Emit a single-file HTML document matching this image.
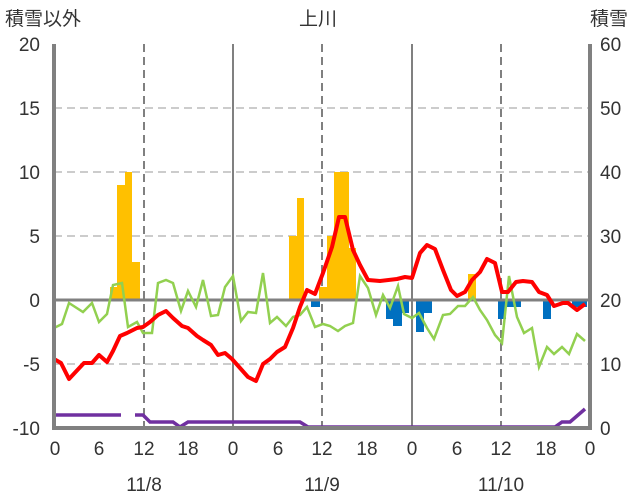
<!DOCTYPE html><html><head><meta charset="utf-8"><style>body{margin:0;background:#fff}svg{display:block}text{font-family:"Liberation Sans","Noto Sans CJK JP",sans-serif;fill:#333;font-size:19px}</style></head><body>
<svg width="636" height="501" viewBox="0 0 636 501">
<g stroke="#bbb" stroke-width="1.5" stroke-dasharray="8,5">
<line x1="54" y1="108" x2="590" y2="108"/><line x1="54" y1="172" x2="590" y2="172"/><line x1="54" y1="236" x2="590" y2="236"/><line x1="54" y1="364" x2="590" y2="364"/></g>
<g stroke="#808080" stroke-width="2" stroke-dasharray="8,5"><line x1="144" y1="44" x2="144" y2="427"/><line x1="322" y1="44" x2="322" y2="427"/><line x1="501" y1="44" x2="501" y2="427"/></g>
<g stroke="#808080" stroke-width="2"><line x1="233" y1="44" x2="233" y2="427"/><line x1="412" y1="44" x2="412" y2="427"/></g>
<g fill="#FFC000"><rect x="110" y="287" width="7" height="13"/><rect x="117" y="185" width="8" height="115"/><rect x="125" y="172" width="7" height="128"/><rect x="132" y="262" width="8" height="38"/><rect x="289" y="236" width="8" height="64"/><rect x="297" y="198" width="7" height="102"/><rect x="319" y="287" width="8" height="13"/><rect x="327" y="236" width="7" height="64"/><rect x="334" y="172" width="15" height="128"/><rect x="349" y="248" width="7" height="52"/><rect x="468" y="274" width="8" height="26"/></g>
<g fill="#0070C0"><rect x="311" y="300" width="9" height="7"/><rect x="386" y="300" width="7" height="19"/><rect x="393" y="300" width="9" height="26"/><rect x="402" y="300" width="7" height="13"/><rect x="416" y="300" width="8" height="32"/><rect x="424" y="300" width="8" height="13"/><rect x="498" y="300" width="8" height="19"/><rect x="506" y="300" width="15" height="7"/><rect x="543" y="300" width="8" height="19"/><rect x="572" y="300" width="15" height="7"/></g>
<line x1="54" y1="300" x2="590" y2="300" stroke="#808080" stroke-width="3"/>
<polyline fill="none" stroke="#92D050" stroke-width="2.5" points="54,328 62,324 69,303 83,312 92,303 99,322 107,314 113,285 122,283 128,327 137,322 143,333 152,333 158,283 166,280 173,283 181,311 188,291 196,307 203,280 211,316 218,315 225,287 233,276 241,321 248,312 256,313 263,273 270,323 277,317 286,326 293,317 300,315 307,307 315,327 323,324 330,326 338,331 345,326 353,323 360,276 368,288 376,315 383,295 390,308 398,286 404,314 412,318 419,313 427,328 434,339 443,315 450,314 458,306 465,306 473,297 480,310 487,320 495,335 502,343 509,276 517,317 524,333 532,328 539,367 547,347 554,354 562,347 569,354 577,334 585,341"/>
<polyline fill="none" stroke="#FF0000" stroke-width="4" stroke-linejoin="round" points="54,359 61,363 69,379 84,363 92,363 99,355 107,362 113,351 120,336 127,333 137,328 143,327 150,322 158,315 166,311 173,318 182,326 188,328 197,336 203,340 211,345 218,355 225,353 232,359 240,368 248,377 256,381 263,364 270,359 277,352 285,347 293,328 300,307 307,290 315,294 323,273 332,247 339,217 345,217 353,250 360,265 368,280 380,281 397,279 405,277 412,278 420,253 427,245 435,249 443,270 451,290 457,296 465,292 472,280 480,272 487,259 495,263 502,292 508,292 516,282 523,281 532,282 539,292 547,295 554,306 563,303 568,303 577,310 585,304"/>
<g fill="none" stroke="#7030A0" stroke-width="3.5"><polyline points="54,415 121,415"/><polyline points="135,415 143,415 150,422 173,422 180,427 188,422 300,422 308,427 555,427 562,422 570,422 585,409"/></g>
<g stroke="#808080" stroke-width="4" fill="none"><polyline points="54,44 54,428 590,428 590,44"/></g>
<g text-anchor="end"><text x="40" y="51">20</text><text x="40" y="115">15</text><text x="40" y="179">10</text><text x="40" y="243">5</text><text x="40" y="307">0</text><text x="40" y="371">-5</text><text x="40" y="435">-10</text></g>
<g text-anchor="start"><text x="600" y="51">60</text><text x="600" y="115">50</text><text x="600" y="179">40</text><text x="600" y="243">30</text><text x="600" y="307">20</text><text x="600" y="371">10</text><text x="600" y="435">0</text></g>
<g text-anchor="middle"><text x="55" y="455">0</text><text x="99" y="455">6</text><text x="144" y="455">12</text><text x="188" y="455">18</text><text x="233" y="455">0</text><text x="278" y="455">6</text><text x="322" y="455">12</text><text x="367" y="455">18</text><text x="412" y="455">0</text><text x="457" y="455">6</text><text x="501" y="455">12</text><text x="546" y="455">18</text><text x="590" y="455">0</text>
<text x="144" y="491">11/8</text><text x="322" y="491">11/9</text><text x="501" y="491">11/10</text><text x="318" y="25">上川</text></g>
<text x="5" y="25">積雪以外</text><text x="590" y="25">積雪</text>
</svg></body></html>
